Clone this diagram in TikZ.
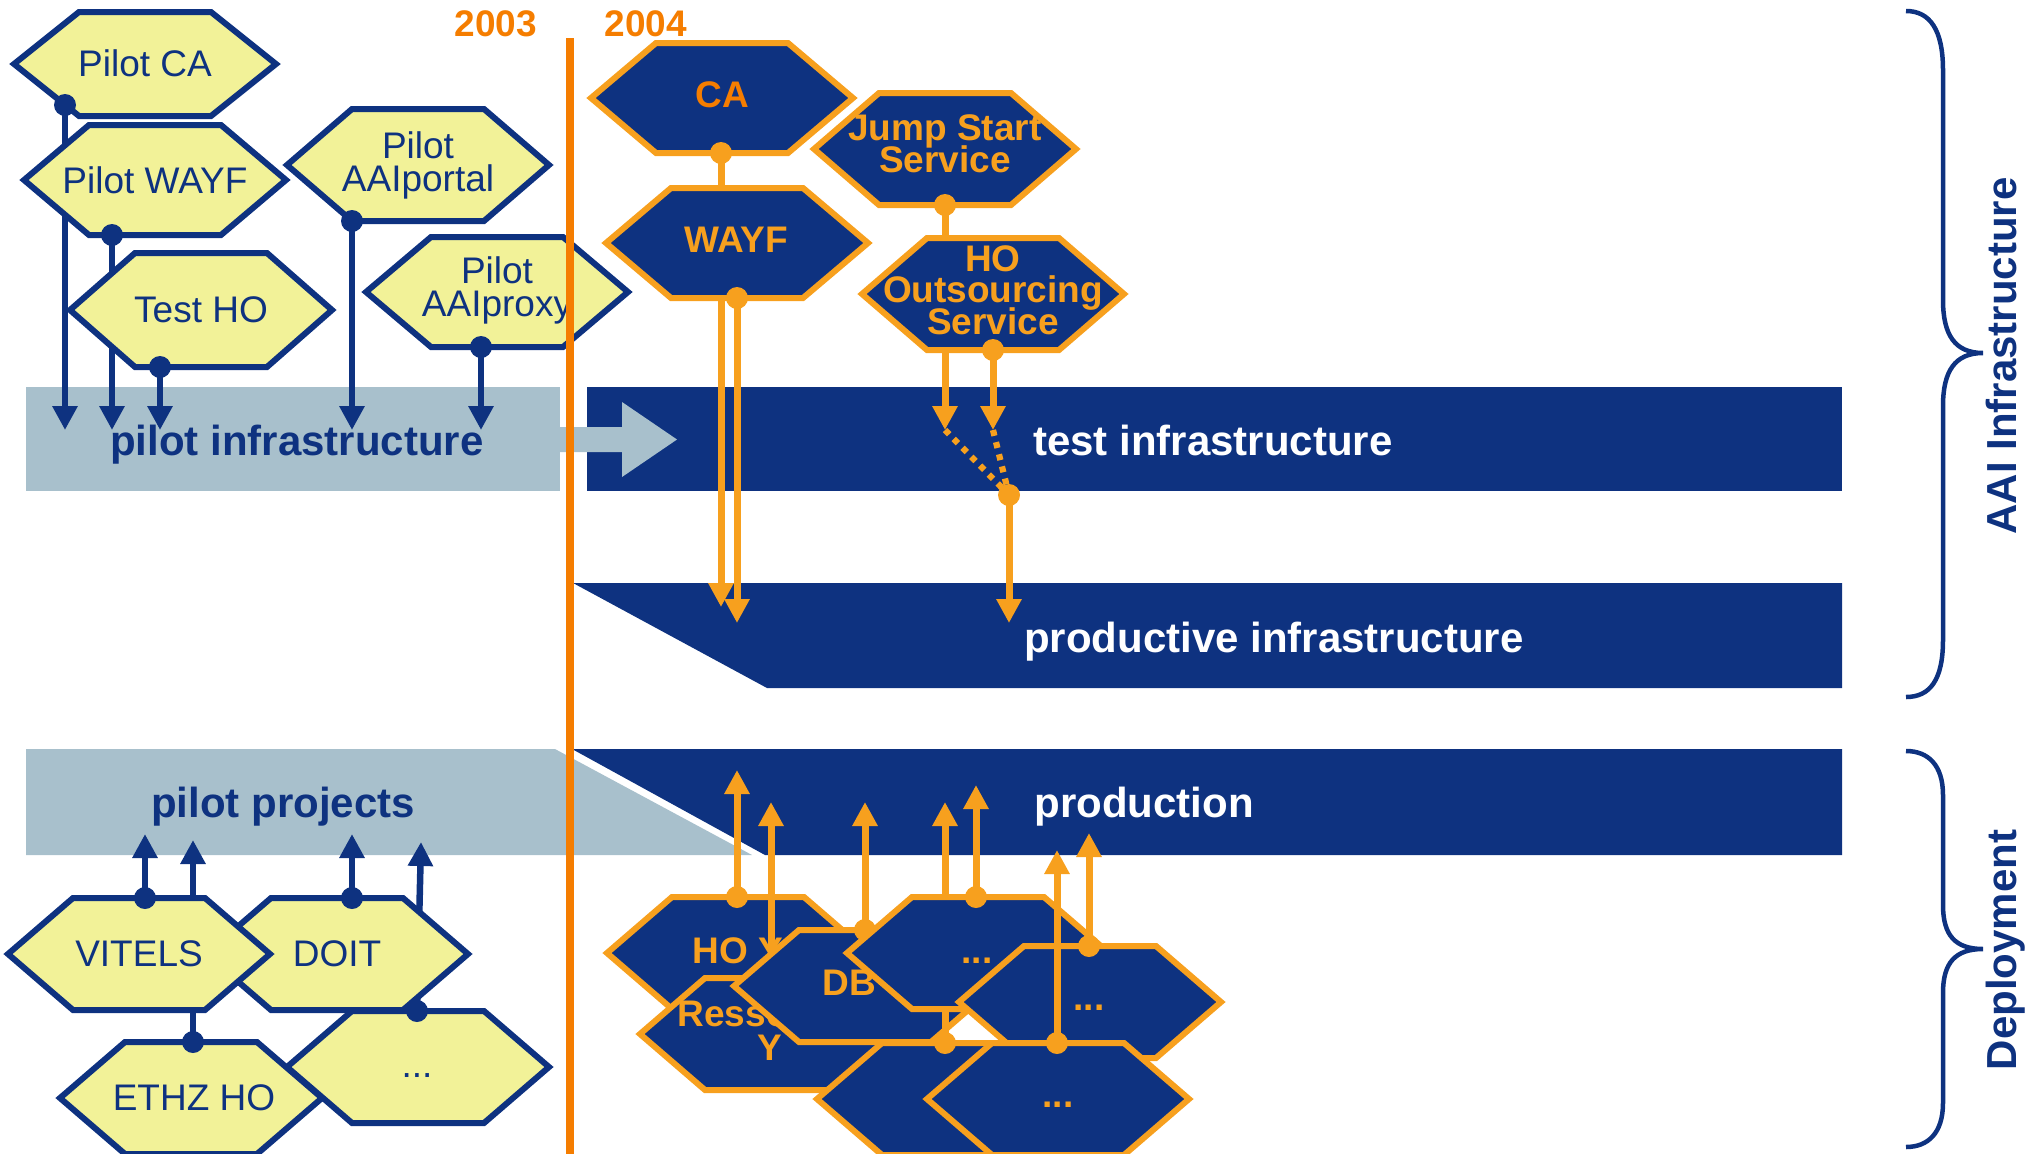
\documentclass[tikz,border=0pt]{standalone}
\usepackage{fontspec}
\setmainfont{Liberation Sans}
\usetikzlibrary{arrows.meta,calc}
\definecolor{navy}{RGB}{14,50,128}
\definecolor{yel}{RGB}{242,242,152}
\definecolor{gblue}{RGB}{168,192,204}
\definecolor{orl}{RGB}{247,160,30}
\definecolor{ord}{RGB}{245,125,0}
\newcommand\fhex{\fontsize{3.7mm}{3.3mm}\selectfont\lineskiplimit=-50pt\relax}
\newcommand\fhexb{\fontsize{3.7mm}{3.15mm}\selectfont\bfseries\lineskiplimit=-50pt\relax}
\newcommand\fband{\fontsize{4.2mm}{5mm}\selectfont\bfseries}
\newcommand\hexat[5]{% style, name, x, y, half height
  \path[#1] (#3-131,#4) -- (#3-66,#4-#5) -- (#3+66,#4-#5) -- (#3+131,#4) -- (#3+66,#4+#5) -- (#3-66,#4+#5) -- cycle;
  \coordinate (#2) at (#3,#4);}
\tikzset{
  yhex/.style={draw=navy, fill=yel, line width=0.6mm, line join=miter},
  bhex/.style={draw=orl, fill=navy, line width=0.6mm, line join=miter},
  ylab/.style={text=navy, font=\fhex, align=center, inner sep=0pt},
  olab/.style={text=orl, font=\fhexb, align=center, inner sep=0pt},
  blab/.style={font=\fband, inner sep=0pt, anchor=base},
  nconn/.style={draw=navy, line width=0.65mm, -{Triangle[width=2.4mm,length=2.4mm]}},
  oconn/.style={draw=orl, line width=0.7mm, -{Triangle[width=2.4mm,length=2.4mm]}},
  ndot/.style={fill=navy},
  odot/.style={fill=orl},
  odots/.style={draw=orl, line width=0.62mm, dash pattern=on 0.6mm off 0.65mm},
  brace/.style={draw=navy, line width=0.45mm},
  yr/.style={text=ord, font=\fhexb, inner sep=0pt},
}
\begin{document}
\begin{tikzpicture}[x=0.1mm,y=-0.1mm]
\useasboundingbox (0,0) rectangle (2044,1153);
\clip (0,0) rectangle (2044,1153);
% level coordinates
\coordinate (pinfTip) at (0,430);
\coordinate (testTip) at (0,430);
% ---------- bands
\fill[navy] (587,387) rectangle (1842,491);
\fill[gblue] (26,387) rectangle (560,491);
\fill[gblue] (556,427) -- (622,427) -- (622,402) -- (677,439.5) -- (622,477) -- (622,452) -- (556,452) -- cycle;
\fill[navy] (573,583) -- (1842,583) -- (1842,688) -- (767,688) -- cycle;
\fill[gblue] (26,749) -- (555,749) -- (752,855) -- (26,855) -- cycle;
\fill[navy] (572,749) -- (1842,749) -- (1842,855) -- (765,855) -- cycle;
\node[blab, text=navy] (tpinf) at (297,455) {pilot infrastructure};
\node[blab, text=white] (ttest) at (1213,455) {test infrastructure};
\node[blab, text=white] (tprod) at (1274,652) {productive infrastructure};
\node[blab, text=white] (tprodn) at (1144,817) {production};
\node[blab, text=navy] (tproj) at (283,817) {pilot projects};
% ---------- pilot hexagons (top left)
\hexat{yhex}{hPCA}{145}{64}{52}
\node[ylab] (tPCA) at (145,63) {Pilot CA};
\coordinate (dPCA) at (65,105);
\draw[nconn] (dPCA) -- (dPCA |- pinfTip);
\fill[ndot] (dPCA) circle[radius=1.1mm];
\hexat{yhex}{hPW}{155}{180}{55}
\node[ylab] (tPW) at (155,180) {Pilot WAYF};
\coordinate (dPW) at (112,235);
\draw[nconn] (dPW) -- (dPW |- pinfTip);
\fill[ndot] (dPW) circle[radius=1.1mm];
\hexat{yhex}{hTHO}{201}{310}{57}
\node[ylab] (tTHO) at (201,310) {Test HO};
\coordinate (dTHO) at (160,367);
\draw[nconn] (dTHO) -- (dTHO |- pinfTip);
\fill[ndot] (dTHO) circle[radius=1.1mm];
\hexat{yhex}{hPP}{418}{165}{56}
\node[ylab] (tPP) at (418,165) {Pilot\\AAIportal};
\coordinate (dPP) at (352,221);
\draw[nconn] (dPP) -- (dPP |- pinfTip);
\fill[ndot] (dPP) circle[radius=1.1mm];
\hexat{yhex}{hPX}{497}{292}{55}
\node[ylab] (tPX) at (497,290) {Pilot\\AAIproxy};
\coordinate (dPX) at (481,347);
\draw[nconn] (dPX) -- (dPX |- pinfTip);
\fill[ndot] (dPX) circle[radius=1.1mm];
% ---------- top orange hexagons
\hexat{bhex}{hCA}{722}{98}{55}
\node[olab, text=ord] (tCA) at (722,95) {CA};
\coordinate (dCA) at (721,153);
\coordinate (aCA) at (721,607);
\draw[oconn] (dCA) -- (aCA);
\fill[odot] (dCA) circle[radius=1.1mm];
\hexat{bhex}{hWAYF}{737}{243}{55}
\node[olab] (tWAYF) at (736,240) {WAYF};
\coordinate (dWAYF) at (737,298);
\coordinate (aWAYF) at (737,623);
\draw[oconn] (dWAYF) -- (aWAYF);
\fill[odot] (dWAYF) circle[radius=1.1mm];
\hexat{bhex}{hJS}{945}{149}{56}
\node[olab] (tJS) at (945,144) {Jump Start\\Service};
\coordinate (dJS) at (945,205);
\draw[oconn] (dJS) -- (dJS |- testTip);
\fill[odot] (dJS) circle[radius=1.1mm];
\hexat{bhex}{hHOS}{993}{294}{56}
\node[olab] (tHOS) at (993,290) {HO\\Outsourcing\\Service};
\coordinate (dHOS) at (993,350);
\draw[oconn] (dHOS) -- (dHOS |- testTip);
\fill[odot] (dHOS) circle[radius=1.1mm];
\coordinate (mrg) at (1009,495);
\coordinate (aMrg) at (1009,623);
\draw[odots] (dJS |- testTip) -- (mrg);
\draw[odots] (dHOS |- testTip) -- (mrg);
\draw[oconn] (mrg) -- (aMrg);
\fill[odot] (mrg) circle[radius=1.1mm];
% ---------- bottom yellow hexagons
\hexat{yhex}{hETH}{191}{1098}{56}
\node[ylab] (tETH) at (194,1098) {ETHZ HO};
\hexat{yhex}{hYD}{418}{1067}{56}
\node[ylab, anchor=base] (tYD) at (417,1077) {...};
\coordinate (dETH) at (193,1042);
\coordinate (aETH) at (193,840);
\draw[nconn] (dETH) -- (aETH);
\fill[ndot] (dETH) circle[radius=1.1mm];
\coordinate (dYD) at (417,1011);
\coordinate (aYD) at (421,842);
\draw[nconn] (dYD) -- (aYD);
\hexat{yhex}{hDOIT}{337}{954}{56}
\node[ylab] (tDOIT) at (337,954) {DOIT};
\fill[ndot] (dYD) circle[radius=1.1mm];
\hexat{yhex}{hVIT}{139}{954}{56}
\node[ylab] (tVIT) at (139,954) {VITELS};
\coordinate (dVIT) at (145,898);
\coordinate (aVIT) at (145,834);
\draw[nconn] (dVIT) -- (aVIT);
\fill[ndot] (dVIT) circle[radius=1.1mm];
\coordinate (dDOIT) at (352,898);
\coordinate (aDOIT) at (352,834);
\draw[nconn] (dDOIT) -- (aDOIT);
\fill[ndot] (dDOIT) circle[radius=1.1mm];
% ---------- bottom orange hexagons
\hexat{bhex}{hA}{738}{953}{56}
\node[olab, anchor=base] (tA) at (738,963) {HO Y};
\coordinate (dA) at (737,897);
\coordinate (aA) at (737,770);
\draw[oconn] (dA) -- (aA);
\fill[odot] (dA) circle[radius=1.1mm];
\hexat{bhex}{hB}{771}{1034}{56}
\node[olab, anchor=base west] (tB) at (677,1026) {Resso};
\node[olab, anchor=base] (tB2) at (770,1060) {Y};
\coordinate (dB) at (771,978);
\coordinate (aB) at (771,802);
\draw[oconn] (dB) -- (aB);
\hexat{bhex}{hC}{865}{986}{56}
\node[olab, anchor=base west] (tC) at (822,995) {DB};
\coordinate (dC) at (865,930);
\coordinate (aC) at (865,802);
\draw[oconn] (dC) -- (aC);
\fill[odot] (dC) circle[radius=1.1mm];
\coordinate (dF) at (945,1043);
\coordinate (aF) at (945,802);
\draw[oconn] (dF) -- (aF);
\hexat{bhex}{hD}{978}{953}{56}
\node[olab, anchor=base] (tD) at (977,963) {...};
\coordinate (dD) at (976,897);
\coordinate (aD) at (976,785);
\draw[oconn] (dD) -- (aD);
\fill[odot] (dD) circle[radius=1.1mm];
\hexat{bhex}{hE}{1090}{1002}{56}
\node[olab, anchor=base] (tE) at (1089,1010) {...};
\coordinate (dE) at (1089,946);
\coordinate (aE) at (1089,833);
\draw[oconn] (dE) -- (aE);
\fill[odot] (dE) circle[radius=1.1mm];
\hexat{bhex}{hF}{948}{1099}{56}
\fill[odot] (dF) circle[radius=1.1mm];
\hexat{bhex}{hG}{1058}{1099}{56}
\node[olab, anchor=base] (tG) at (1058,1107) {...};
\coordinate (dG) at (1057,1043);
\coordinate (aG) at (1057,850);
\draw[oconn] (dG) -- (aG);
\fill[odot] (dG) circle[radius=1.1mm];
% ---------- time line
\coordinate (ltop) at (570,38);
\coordinate (lbot) at (570,1160);
\draw[ord, line width=0.75mm] (ltop) -- (lbot);
\node[yr] (t2003) at (496,24) {2003};
\node[yr] (t2004) at (646,24) {2004};
% ---------- braces
\draw[brace] (1906,11) .. controls (1930,11) and (1943,30) .. (1943,70) -- (1943,300) .. controls (1943,335) and (1955,353) .. (1983,353) .. controls (1955,353) and (1943,371) .. (1943,406) -- (1943,640) .. controls (1943,680) and (1930,697) .. (1906,697);
\draw[brace] (1906,751) .. controls (1928,751) and (1943,765) .. (1943,795) -- (1943,905) .. controls (1943,935) and (1955,949) .. (1983,949) .. controls (1955,949) and (1943,963) .. (1943,993) -- (1943,1103) .. controls (1943,1133) and (1928,1147) .. (1906,1147);
\node[blab, text=navy, rotate=90] (tAAI) at (2016,356) {AAI Infrastructure};
\node[blab, text=navy, rotate=90] (tDep) at (2016,950) {Deployment};
\end{tikzpicture}
\end{document}
